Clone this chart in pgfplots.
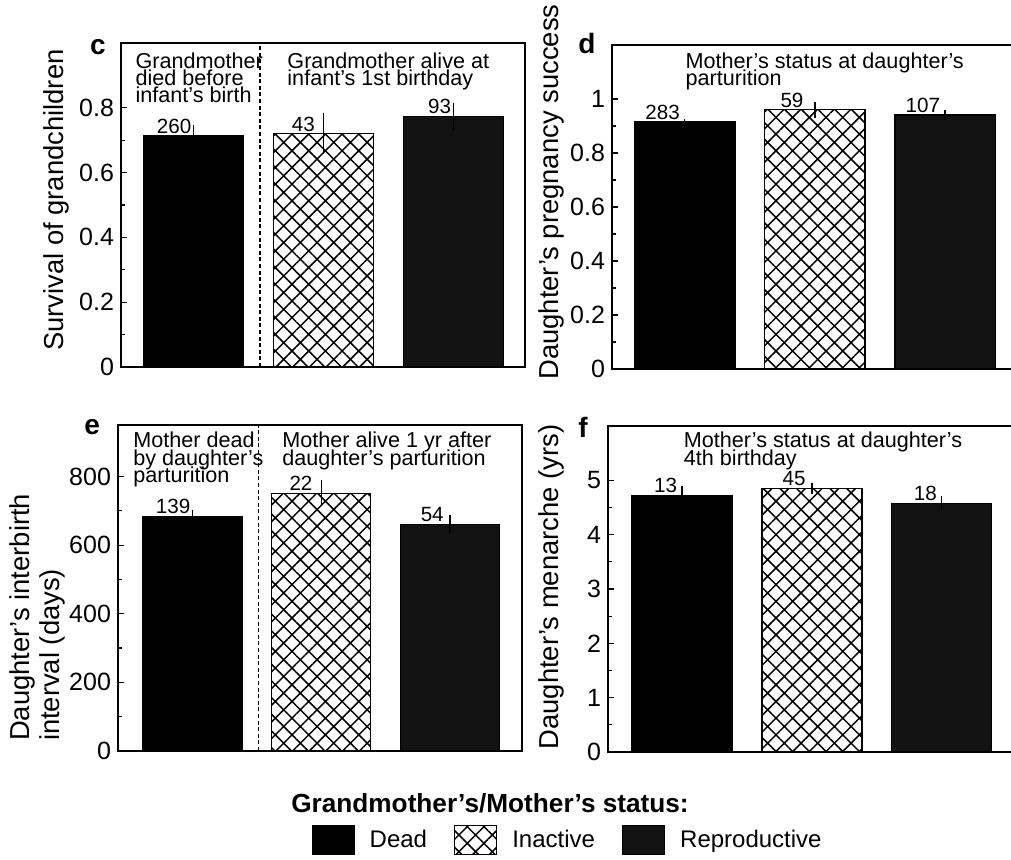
\documentclass[border=0pt]{standalone}
\usepackage{fontspec}
\setmainfont{Liberation Sans}
\usepackage{pgfplots}
\pgfplotsset{compat=1.18}
\usetikzlibrary{patterns.meta}
\definecolor{repro}{gray}{0.07}
\tikzset{
  deadbar/.style={fill=black, draw=black, line width=0.6pt},
  inactbar/.style={draw=black, line width=0.6pt, pattern={Hatch[angle=45,distance=5.9pt,line width=0.75pt]}, pattern color=black},
  reprobar/.style={fill=repro, draw=black, line width=0.6pt},
  numlab/.style={anchor=south east, inner sep=1pt, font=\fontsize{10.3}{10}\selectfont},
  paneltext/.style={anchor=north west, inner sep=0pt, align=left, font=\fontsize{10.8}{8.7}\selectfont},
  panelletter/.style={font=\bfseries\fontsize{14}{14}\selectfont, inner sep=0pt, anchor=center},
  sepline/.style={dash pattern=on 2pt off 1.3pt, line width=0.6pt},
}
\pgfplotsset{
  panel/.style={
    scale only axis, anchor=south west,
    ybar, bar shift=0pt, bar width=0.77,
    xtick=\empty, ytick pos=left,
    ymin=0, minor y tick num=1,
    major tick length=3pt, minor tick length=1.8pt,
    every tick/.style={black, line width=0.6pt},
    axis line style={line width=0.6pt},
    tick label style={font=\fontsize{12.5}{12.5}\selectfont},
    /pgf/number format/assume math mode=true,
    ylabel style={font=\fontsize{13.7}{15}\selectfont, anchor=center},
    error bars/y dir=both, error bars/y explicit, error bars/error mark=none,
    error bars/error bar style={line width=0.6pt, black},
    clip=false,
    legend image code/.code={\draw[##1] (0pt,-7pt) rectangle (21pt,7.5pt);},
  },
}
\begin{document}
\lineskiplimit=-20pt
\begin{tikzpicture}
% ---------- panel c ----------
\begin{axis}[panel, at={(60.5pt,246.5pt)}, width=202pt, height=162pt,
  xmin=-0.56, xmax=2.55, ymax=1, ytick={0,0.2,0.4,0.6,0.8},
  yticklabels={0,0.2,0.4,0.6,0.8},
  ylabel={Survival of grandchildren},
  ylabel style={at={(axis description cs:-0.161,0.515)}}]
\addplot[deadbar] coordinates {(0,0.714) +- (0,0.034)};
\addplot[inactbar] coordinates {(1,0.720) +- (0,0.063)};
\addplot[reprobar] coordinates {(2,0.773) +- (0,0.043)};
\draw[sepline] (axis cs:0.51,0) -- (axis cs:0.51,1);
\node[numlab] at (axis cs:0,0.714) {260};
\node[numlab] at (axis cs:0.95,0.720) {43};
\node[numlab] at (axis cs:2,0.773) {93};
\node[paneltext] at (axis description cs:0.035,0.972) {Grandmother\\died before\\infant's birth};
\node[paneltext] at (axis description cs:0.411,0.972) {Grandmother alive at\\infant's 1st birthday};
\node[panelletter] at (axis description cs:-0.057,0.988) {c};
\end{axis}
% ---------- panel d ----------
\begin{axis}[panel, at={(306pt,245.5pt)}, width=200pt, height=162pt,
  xmin=-0.56, xmax=2.515, ymax=1.2, ytick={0,0.2,0.4,0.6,0.8,1},
  yticklabels={0,0.2,0.4,0.6,0.8,1},
  ylabel={Daughter's pregnancy success},
  ylabel style={at={(axis description cs:-0.151,0.546)}}]
\addplot[deadbar] coordinates {(0,0.915) +- (0,0.011)};
\addplot[inactbar] coordinates {(1,0.960) +- (0,0.029)};
\addplot[reprobar] coordinates {(2,0.941) +- (0,0.018)};
\node[numlab] at (axis cs:-0.02,0.915) {283};
\node[numlab] at (axis cs:0.93,0.960) {59};
\node[numlab] at (axis cs:1.98,0.941) {107};
\node[paneltext] at (axis description cs:0.183,0.978) {Mother's status at daughter's\\parturition};
\node[panelletter] at (axis description cs:-0.063,1.006) {d};
\end{axis}
% ---------- panel e ----------
\begin{axis}[panel, at={(59pt,54.5pt)}, width=202pt, height=163pt,
  xmin=-0.58, xmax=2.56, ymax=950, ytick={0,200,400,600,800},
  ylabel={Daughter's interbirth\\interval (days)},
  ylabel style={at={(axis description cs:-0.199,0.009)}, anchor=west, align=left},
  legend columns=3,
  legend style={at={(axis description cs:0.478,-0.273)}, anchor=west, draw=none, fill=none,
    inner sep=0pt, font=\fontsize{12}{12}\selectfont, nodes={inner sep=0pt},
    column sep=7.5pt, /tikz/every even column/.append style={column sep=13.5pt}}]
\addplot[deadbar] coordinates {(0,684) +- (0,18)};
\addlegendentry{Dead}
\addplot[inactbar] coordinates {(1,751) +- (0,38)};
\addlegendentry{Inactive}
\addplot[reprobar] coordinates {(2,661) +- (0,26)};
\addlegendentry{Reproductive}
\draw[sepline] (axis cs:0.51,0) -- (axis cs:0.51,950);
\node[numlab] at (axis cs:0,684) {139};
\node[numlab] at (axis cs:0.95,751) {22};
\node[numlab] at (axis cs:1.97,661) {54};
\node[paneltext] at (axis description cs:0.037,0.979) {Mother dead\\by daughter's\\parturition};
\node[paneltext] at (axis description cs:0.406,0.979) {Mother alive 1 yr after\\daughter's parturition};
\node[panelletter] at (axis description cs:-0.064,0.994) {e};
\end{axis}
% ---------- panel f ----------
\begin{axis}[panel, at={(304pt,54pt)}, width=202pt, height=163pt,
  xmin=-0.57, xmax=2.54, ymax=6, ytick={0,1,2,3,4,5},
  ylabel={Daughter's menarche (yrs)},
  ylabel style={at={(axis description cs:-0.139,0.506)}}]
\addplot[deadbar] coordinates {(0,4.72) +- (0,0.17)};
\addplot[inactbar] coordinates {(1,4.85) +- (0,0.11)};
\addplot[reprobar] coordinates {(2,4.58) +- (0,0.13)};
\node[numlab] at (axis cs:-0.02,4.72) {13};
\node[numlab] at (axis cs:0.97,4.85) {45};
\node[numlab] at (axis cs:1.98,4.58) {18};
\node[paneltext] at (axis description cs:0.187,0.982) {Mother's status at daughter's\\4th birthday};
\node[panelletter] at (axis description cs:-0.062,0.997) {f};
\end{axis}
\node[font=\bfseries\fontsize{13.1}{13}\selectfont, anchor=base] at (245pt,23.5pt) {Grandmother's/Mother's status:};
\pgfresetboundingbox
\useasboundingbox (0,0) rectangle (505.5pt,430pt);
\end{tikzpicture}
\end{document}
